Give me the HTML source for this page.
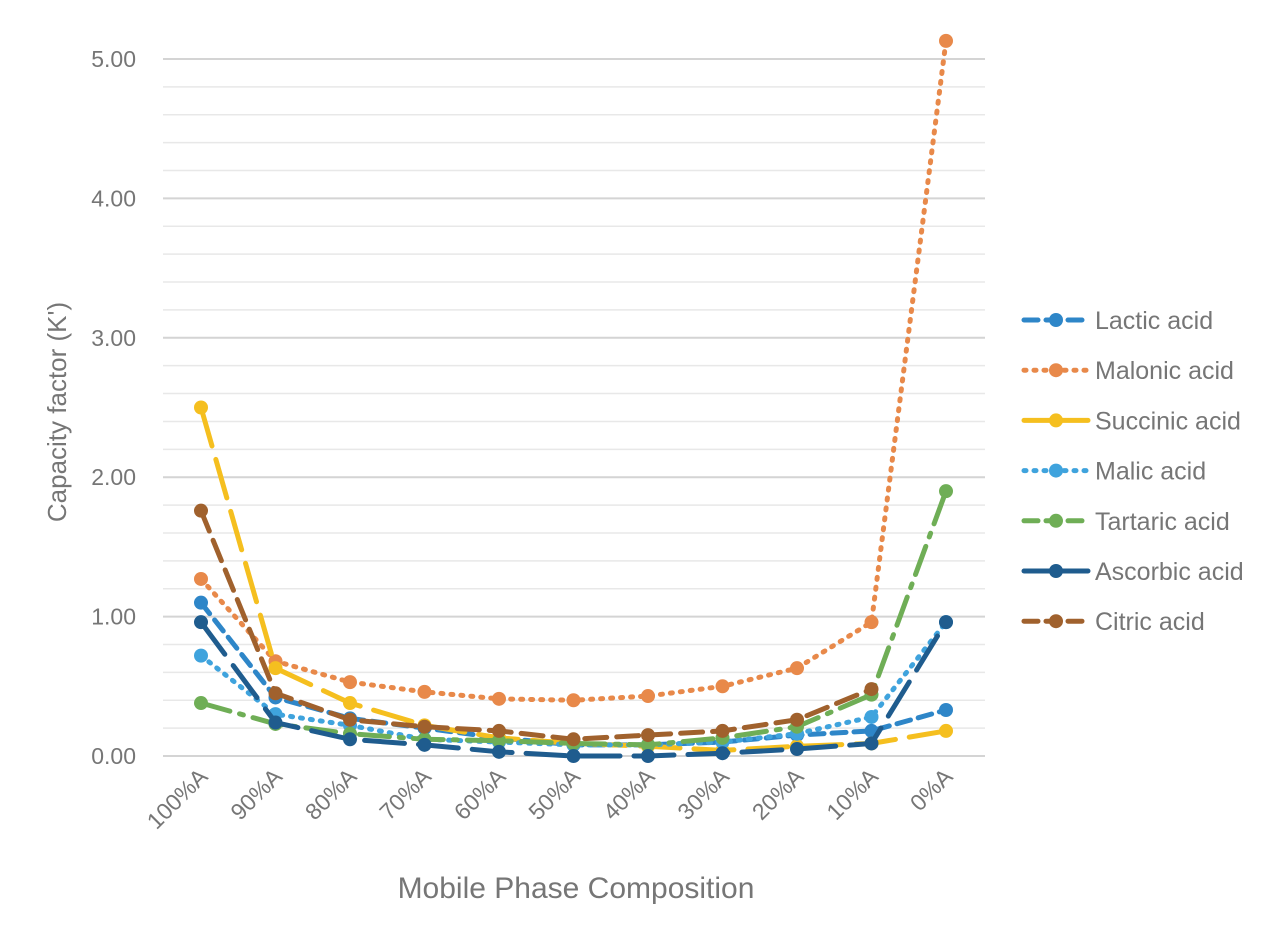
<!DOCTYPE html>
<html><head><meta charset="utf-8"><style>
body{margin:0;background:#fff}
svg text{font-family:"Liberation Sans",sans-serif;fill:#767676}
</style></head><body>
<svg id="s" width="1280" height="933" xmlns="http://www.w3.org/2000/svg"></svg>
<script>
const s=document.getElementById('s');
let h='';
const y0=756,k=139.4,x0=201,dx=74.5;
const Y=v=>y0-v*k, X=i=>x0+i*dx;
for(let i=0;i<=25;i++){const v=i*0.2;const maj=i%5===0;h+=`<line x1="163" x2="985" y1="${Y(v)}" y2="${Y(v)}" stroke="${maj?'#d4d4d4':'#e8e8e8'}" stroke-width="${maj?2:1.5}"/>`;}
for(let v=0;v<=5;v++)h+=`<text x="136" y="${Y(v)+8}" text-anchor="end" font-size="23">${v.toFixed(2)}</text>`;
const labs=['100%A','90%A','80%A','70%A','60%A','50%A','40%A','30%A','20%A','10%A','0%A'];
labs.forEach((l,i)=>h+=`<text transform="translate(${X(i)+8},778) rotate(-45)" text-anchor="end" font-size="23">${l}</text>`);
h+=`<text transform="translate(66,412) rotate(-90)" text-anchor="middle" font-size="26">Capacity factor (K')</text>`;
h+=`<text x="576" y="898" text-anchor="middle" font-size="30">Mobile Phase Composition</text>`;
const S=[
['Lactic acid','#2e86c8','14 8',[1.10,0.42,0.27,0.20,0.13,0.08,0.08,0.10,0.15,0.18,0.33]],
['Malonic acid','#e8894a','2 8',[1.27,0.68,0.53,0.46,0.41,0.40,0.43,0.50,0.63,0.96,5.13]],
['Succinic acid','#f5bf1f','40 14',[2.50,0.63,0.38,0.22,0.13,0.09,0.07,0.04,0.07,0.09,0.18]],
['Malic acid','#3fa3dd','2 8',[0.72,0.30,0.22,0.12,0.10,0.08,0.08,0.10,0.16,0.28,0.96]],
['Tartaric acid','#6fae56','30 10 4 10',[0.38,0.23,0.16,0.12,0.11,0.09,0.08,0.13,0.21,0.44,1.90]],
['Ascorbic acid','#1f5c8e','40 14',[0.96,0.24,0.12,0.08,0.03,0.00,0.00,0.02,0.05,0.09,0.96]],
['Citric acid','#a0612d','22 10',[1.76,0.45,0.26,0.21,0.18,0.12,0.15,0.18,0.26,0.48]]
];
S.forEach((d,j)=>{
 const pts=d[3].map((v,i)=>`${X(i)},${Y(v)}`).join(' ');
 h+=`<polyline points="${pts}" fill="none" stroke="${d[1]}" stroke-width="5" stroke-dasharray="${d[2]}" stroke-linecap="round"/>`;
 d[3].forEach((v,i)=>h+=`<circle cx="${X(i)}" cy="${Y(v)}" r="7" fill="${d[1]}"/>`);
 const ly=320+j*50.2;
 h+=`<line x1="1024" x2="1088" y1="${ly}" y2="${ly}" stroke="${d[1]}" stroke-width="5" stroke-dasharray="${d[2]==='40 14'?'none':(d[2]==='2 8'?'2 8':'14 8')}" stroke-linecap="round"/>`;
 h+=`<circle cx="1056" cy="${ly}" r="7" fill="${d[1]}"/>`;
 h+=`<text x="1095" y="${ly+9}" font-size="25">${d[0]}</text>`;
});
s.innerHTML=h;
</script>
</body></html>
